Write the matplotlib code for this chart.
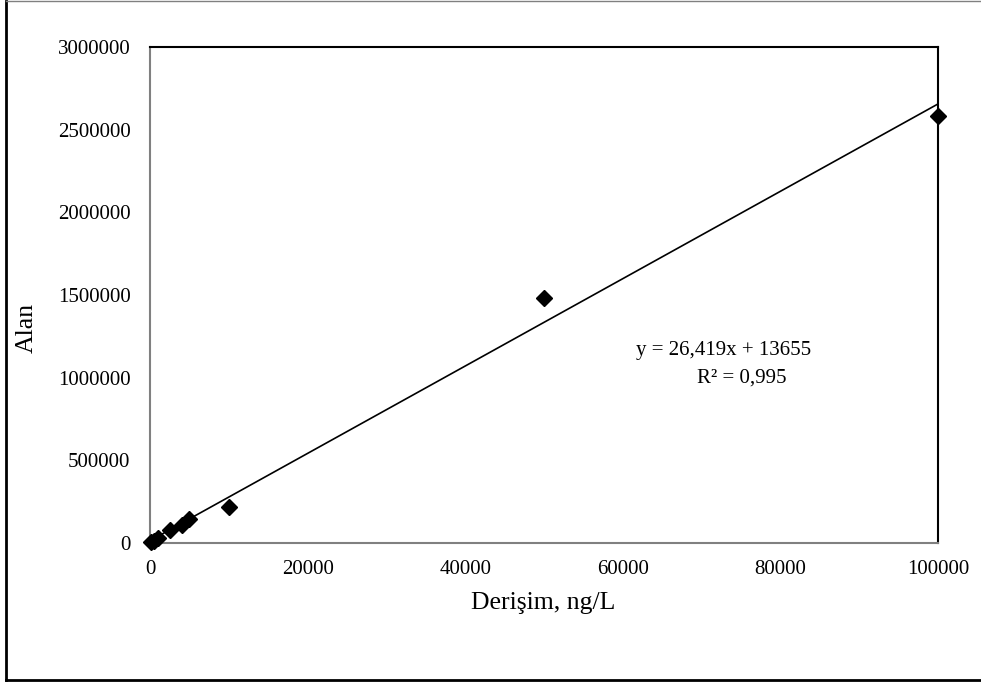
import matplotlib
matplotlib.use("Agg")
import matplotlib.pyplot as plt
from matplotlib.lines import Line2D
import numpy as np

# Data
conc = [100, 500, 1000, 2500, 4000, 5000, 10000, 50000, 100000]
area = [5000, 15000, 30000, 80000, 110000, 145000, 220000, 1480000, 2580000]
slope = 26.419
intercept = 13655
r2_text = "R² = 0,995"
eq_text = "y = 26,419x + 13655"
xticks = [0, 20000, 40000, 60000, 80000, 100000]
yticks = [0, 500000, 1000000, 1500000, 2000000, 2500000, 3000000]

plt.rcParams['font.family'] = ['Liberation Serif', 'DejaVu Serif']

W, H = 981, 684
fig = plt.figure(figsize=(W/100, H/100), dpi=100)
ax = fig.add_axes([150/W, 1-543/H, (938-150)/W, (543-47)/H])

ax.plot(conc, area, linestyle='none', marker='D', markersize=8.5, color='black', clip_on=False, zorder=3)
xl = np.array([min(conc), max(conc)])
ax.plot(xl, slope*xl + intercept, color='black', lw=1.2)

ax.set_xlim(0, 100000)
ax.set_ylim(0, 3000000)
ax.set_xticks(xticks)
ax.set_yticks(yticks)
ax.set_xticklabels([str(v) for v in xticks])
ax.set_yticklabels([str(v) for v in yticks])
ax.tick_params(length=0, labelsize=15)
ax.tick_params(axis='y', pad=14)
ax.tick_params(axis='x', pad=12)

for s in ['top', 'right']:
    ax.spines[s].set_color('black')
    ax.spines[s].set_linewidth(1.5)
for s in ['left', 'bottom']:
    ax.spines[s].set_color('#808080')
    ax.spines[s].set_linewidth(1.5)

fig.text(27/W, 1-328/H, 'Alan', rotation=90, ha='center', va='center', fontsize=18.5)
fig.text(543/W, 1-603/H, 'Derişim, ng/L', ha='center', va='center', fontsize=18.5)

fig.text(724/W, 1-350/H, eq_text, ha='center', va='center', fontsize=15)
fig.text(742/W, 1-378/H, r2_text, ha='center', va='center', fontsize=15)

# outer chart frame
fig.add_artist(Line2D([6/W, 6/W], [1-1/H, 1-680/H], transform=fig.transFigure, color='black', lw=2))
fig.add_artist(Line2D([6/W, 980/W], [1-680/H, 1-680/H], transform=fig.transFigure, color='black', lw=2))
fig.add_artist(Line2D([6/W, 980/W], [1-1/H, 1-1/H], transform=fig.transFigure, color='#808080', lw=1))

fig.savefig('out.png', dpi=100)
